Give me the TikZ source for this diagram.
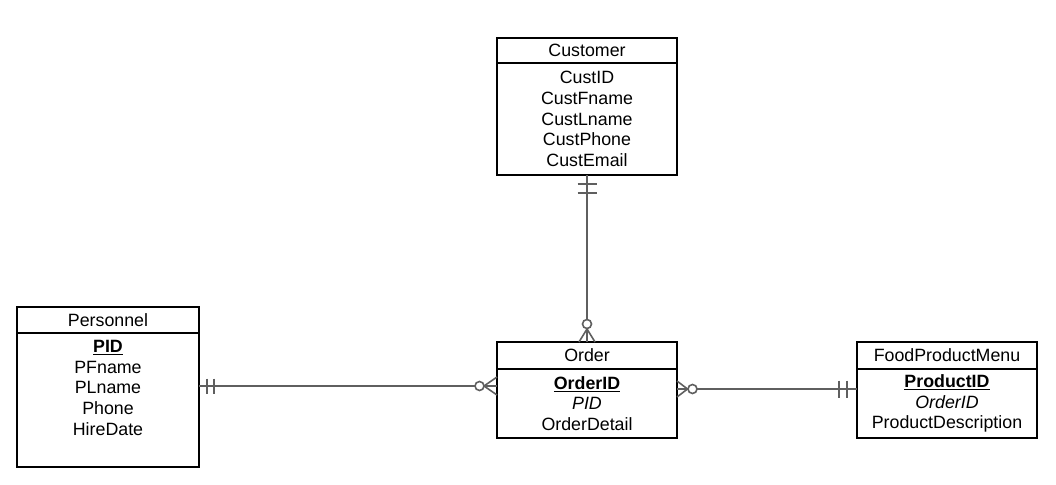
\documentclass[tikz,border=0pt]{standalone}
\usepackage{fontspec}
\setmainfont{Liberation Sans}
\usetikzlibrary{positioning,calc}
\definecolor{linkgray}{RGB}{95,95,95}
\tikzset{
  entfont/.style={font=\fontsize{17.8pt}{20.6pt}\selectfont},
  enthead/.style={draw, line width=1.3pt, minimum width=180pt, inner sep=0pt, outer sep=0pt, entfont},
  entbody/.style={draw, line width=1.3pt, minimum width=180pt, inner sep=0pt, outer sep=0pt, align=center, entfont},
  link/.style={draw=linkgray, line width=1.6pt},
}
\begin{document}
\begin{tikzpicture}[x=1pt, y=-1pt]
			\useasboundingbox (0,0) rectangle (1056,484);
			
			% Entities
			\node[enthead, minimum height=25pt] (chead) at (587,50.5) {Customer};
			\node[entbody, minimum height=112pt, below=0pt of chead] (cbody) {CustID\\CustFname\\CustLname\\CustPhone\\CustEmail};
			
			\node[enthead, minimum width=182pt, minimum height=26pt] (phead) at (108,320) {Personnel};
			\node[entbody, minimum width=182pt, minimum height=134pt, below=0pt of phead] (pbody) {\underline{\textbf{PID}}\\PFname\\PLname\\Phone\\HireDate\\\vphantom{g}};
			
			\node[enthead, minimum height=27pt] (ohead) at (587,355.5) {Order};
			\node[entbody, minimum height=69pt, below=0pt of ohead] (obody) {\underline{\textbf{OrderID}}\\\textit{PID}\\OrderDetail};
			
			\node[enthead, minimum height=27pt] (fhead) at (947,355.5) {FoodProductMenu};
			\node[entbody, minimum height=69pt, below=0pt of fhead] (fbody) {\underline{\textbf{ProductID}}\\\textit{OrderID}\\ProductDescription};
			
			% Ends of the links on the side boxes
			\coordinate (pend) at ([yshift=14pt]pbody.east);
			\coordinate (oleft) at ([yshift=17.5pt]obody.west);
			\coordinate (oright) at ([yshift=14.5pt]obody.east);
			\coordinate (fend) at ([yshift=14.5pt]fbody.west);
			
			% Customer to Order
			\draw[link] (cbody.south) -- (ohead.north);
			\draw[link] ($(cbody.south)+(-9.5,9)$) -- ++(19,0);
			\draw[link] ($(cbody.south)+(-9.5,18)$) -- ++(19,0);
			\draw[link] ($(ohead.north)+(0,-13)$) -- ($(ohead.north)+(-8,0)$);
			\draw[link] ($(ohead.north)+(0,-13)$) -- ($(ohead.north)+(8,0)$);
			\draw[link, fill=white] ($(ohead.north)+(0,-18)$) circle (4.5);
			
			% Personnel to Order
			\draw[link] (pend) -- (oleft);
			\draw[link] ($(pend)+(8,-7.5)$) -- ++(0,15);
			\draw[link] ($(pend)+(15,-7.5)$) -- ++(0,15);
			\draw[link] ($(oleft)+(-13,0)$) -- ($(oleft)+(0,-9)$);
			\draw[link] ($(oleft)+(-13,0)$) -- ($(oleft)+(0,9)$);
			\draw[link, fill=white] ($(oleft)+(-17.5,0)$) circle (4.5);
			
			% Order to FoodProductMenu
			\draw[link] (oright) -- (fend);
			\draw[link] ($(oright)+(10.5,0)$) -- ($(oright)+(0,-8)$);
			\draw[link] ($(oright)+(10.5,0)$) -- ($(oright)+(0,8)$);
			\draw[link, fill=white] ($(oright)+(15.5,0)$) circle (4.5);
			\draw[link] ($(fend)+(-10,-8.5)$) -- ++(0,17);
			\draw[link] ($(fend)+(-18,-8.5)$) -- ++(0,17);
		\end{tikzpicture}
\end{document}
